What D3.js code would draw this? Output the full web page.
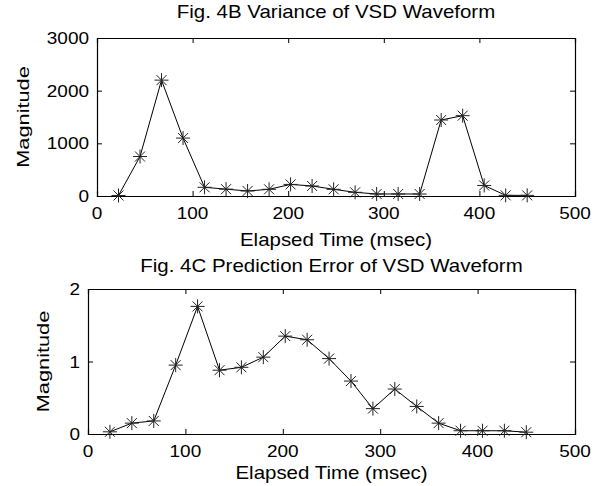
<!DOCTYPE html>
<html>
<head>
<meta charset="utf-8">
<script src="https://cdn.jsdelivr.net/npm/d3@7"></script>
<style>
  body { margin: 0; background: #fff; }
  text { font-family: "Liberation Sans", Arial, sans-serif; fill: #000; }
</style>
</head>
<body>
<div id="chart"></div>
<script>
// sample times (msec), shared by both panels
const times = [22.5, 45, 67.5, 90, 112.5, 135, 157.5, 180, 202.5, 225,
  247.5, 270, 292.5, 315, 337.5, 360, 382.5, 405, 427.5, 450];
// Fig. 4B variance
const variance = [10, 750, 2200, 1100, 165, 130, 95, 127, 220, 190,
  127, 70, 38, 38, 38, 1443, 1525, 200, 12, 12];
// Fig. 4C prediction error
const predError = [0.03, 0.15, 0.18, 0.95, 1.76, 0.88, 0.92, 1.06, 1.35, 1.30,
  1.04, 0.73, 0.35, 0.62, 0.38, 0.15, 0.045, 0.045, 0.045, 0.025];

const xTicks = [0, 100, 200, 300, 400, 500];
const yTicksB = [0, 1000, 2000, 3000];
const yTicksC = [0, 1, 2];

const W = 602, H = 486;
const svg = d3.select('#chart').append('svg')
  .attr('width', W).attr('height', H);

// text in the original looks stretched sideways
function label(x, y, str, opt) {
  opt = opt || {};
  const fs = opt.fs || 17.5, sx = opt.sx || 1.17;
  const g = svg.append('g')
    .attr('transform', `translate(${x},${y})` + (opt.rotate ? ' rotate(-90)' : '') + ` scale(${sx},1)`);
  g.append('text')
    .attr('text-anchor', opt.anchor || 'middle')
    .attr('font-size', fs)
    .text(str);
}

function panel(opts) {
  const { left, right, top, bottom, yDomain, yTicks, values, title, titleY, xLabelY, yLabelX } = opts;

  const x = d3.scaleLinear().domain([0, 500]).range([left, right]);
  const y = d3.scaleLinear().domain(yDomain).range([bottom, top]);
  const tk = 5;

  // axes, ticks pointing inward
  svg.append('g').attr('transform', `translate(0,${bottom})`)
    .call(d3.axisBottom(x).tickValues(xTicks).tickSize(-tk).tickFormat(''));
  svg.append('g').attr('transform', `translate(0,${top})`)
    .call(d3.axisTop(x).tickValues(xTicks).tickSize(-tk).tickFormat(''));
  svg.append('g').attr('transform', `translate(${left},0)`)
    .call(d3.axisLeft(y).tickValues(yTicks).tickSize(-tk).tickFormat(''));
  svg.append('g').attr('transform', `translate(${right},0)`)
    .call(d3.axisRight(y).tickValues(yTicks).tickSize(-tk).tickFormat(''));
  svg.selectAll('.domain').attr('stroke', '#000').attr('stroke-width', 1.2);
  svg.selectAll('.tick line').attr('stroke', '#000');

  xTicks.forEach(t => label(x(t), bottom + 23, t, { fs: 16.5, sx: 1.15 }));
  yTicks.forEach(t => label(left - 8, y(t) + 6, t, { fs: 16.5, sx: 1.15, anchor: 'end' }));

  label((left + right) / 2, titleY, title);
  label((left + right) / 2, xLabelY, 'Elapsed Time (msec)');
  label(yLabelX, (top + bottom) / 2, 'Magnitude', { fs: 17, sx: 1.28, rotate: true });

  const pts = times.map((t, i) => [x(t), y(values[i])]);

  svg.append('path')
    .attr('d', d3.line()(pts))
    .attr('fill', 'none')
    .attr('stroke', '#000')
    .attr('stroke-width', 1);

  // asterisk markers
  const r = 7, d = 5;
  svg.append('g').selectAll('path')
    .data(pts).enter().append('path')
    .attr('transform', p => `translate(${p[0]},${p[1]})`)
    .attr('stroke', '#222').attr('stroke-width', 1)
    .attr('d', `M${-r},0H${r}M0,${-r}V${r}M${-d},${-d}L${d},${d}M${-d},${d}L${d},${-d}`);
}

panel({
  left: 97, right: 575, top: 38, bottom: 196,
  yDomain: [0, 3000], yTicks: yTicksB, values: variance,
  title: 'Fig. 4B Variance of VSD Waveform', titleY: 18, xLabelY: 246, yLabelX: 29
});

panel({
  left: 88, right: 575, top: 289, bottom: 434,
  yDomain: [0, 2], yTicks: yTicksC, values: predError,
  title: 'Fig. 4C Prediction Error of VSD Waveform', titleY: 272, xLabelY: 479, yLabelX: 49
});
</script>
</body>
</html>
